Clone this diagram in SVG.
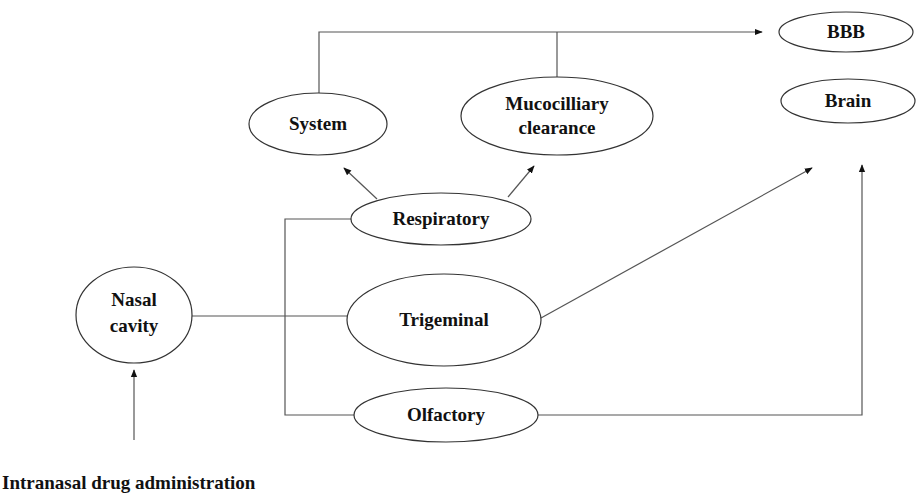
<svg xmlns="http://www.w3.org/2000/svg" width="917" height="498" viewBox="0 0 917 498">
<style>
.n{fill:#fff;stroke:#333;stroke-width:1.2}
.t{font-family:"Liberation Serif","Times New Roman",serif;font-weight:bold;font-size:19px;fill:#111;text-anchor:middle}
.c{fill:none;stroke:#555;stroke-width:1.2}
</style>
<defs>
<marker id="a" viewBox="0 0 10 10" refX="9" refY="5" markerWidth="8" markerHeight="8" markerUnits="userSpaceOnUse" orient="auto">
<path d="M0,1 L10,5 L0,9 Z" fill="#111"/>
</marker>
</defs>
<g id="connectors">
<path class="c" d="M319,93 V32 H762" marker-end="url(#a)"/>
<path class="c" d="M557,77 V32"/>
<path class="c" d="M377,199 L344,168" marker-end="url(#a)"/>
<path class="c" d="M508,197 L534,166" marker-end="url(#a)"/>
<path class="c" d="M352,219 H285 V415 H355"/>
<path class="c" d="M192,316 H347"/>
<path class="c" d="M541,318 L812,168" marker-end="url(#a)"/>
<path class="c" d="M538,415 H862 V165" marker-end="url(#a)"/>
<path class="c" d="M134,440 V370" marker-end="url(#a)"/>
</g>
<g id="bbb"><ellipse class="n" cx="846" cy="32" rx="67" ry="20"/><text class="t" x="846" y="38">BBB</text></g>
<g id="system"><ellipse class="n" cx="318" cy="124" rx="69" ry="31"/><text class="t" x="318" y="130">System</text></g>
<g id="mucocilliary"><ellipse class="n" cx="557" cy="116" rx="96" ry="39"/><text class="t" x="557" y="110">Mucocilliary</text><text class="t" x="557" y="134">clearance</text></g>
<g id="brain"><ellipse class="n" cx="848" cy="101" rx="67" ry="22"/><text class="t" x="848" y="107">Brain</text></g>
<g id="respiratory"><ellipse class="n" cx="441" cy="219" rx="90" ry="26"/><text class="t" x="441" y="225">Respiratory</text></g>
<g id="nasal"><ellipse class="n" cx="134" cy="315" rx="58" ry="48"/><text class="t" x="134" y="306">Nasal</text><text class="t" x="134" y="332">cavity</text></g>
<g id="trigeminal"><ellipse class="n" cx="444" cy="320" rx="97" ry="46"/><text class="t" x="444" y="326">Trigeminal</text></g>
<g id="olfactory"><ellipse class="n" cx="446" cy="415" rx="92" ry="27"/><text class="t" x="446" y="421">Olfactory</text></g>
<g id="intranasal"><text class="t" x="2" y="489" style="text-anchor:start">Intranasal drug administration</text></g>
</svg>
